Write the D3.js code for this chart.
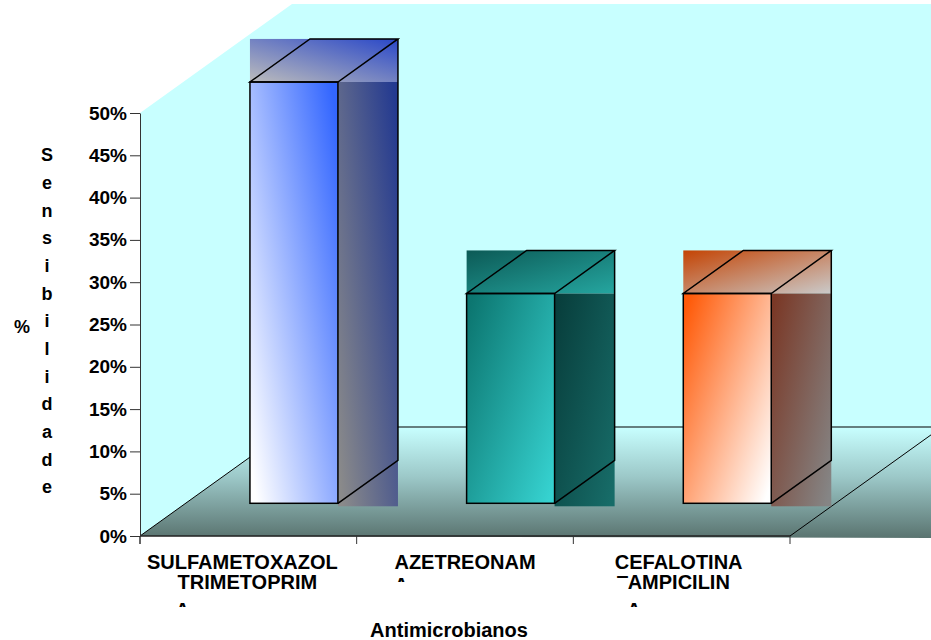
<!DOCTYPE html>
<html>
<head>
<meta charset="utf-8">
<script src="https://cdn.jsdelivr.net/npm/d3@7"></script>
<style>
  body { margin: 0; background: #fff; }
  text { font-family: Arial, 'Liberation Sans', sans-serif; font-weight: bold; fill: #000; }
</style>
</head>
<body>
<svg id="chart" width="931" height="640"></svg>
<script>
// data
const categories = ['SULFAMETOXAZOL TRIMETOPRIM', 'AZETREONAM', 'CEFALOTINA AMPICILIN'];
const values = [0.498, 0.248, 0.248];
const yTicks = [0, 0.05, 0.10, 0.15, 0.20, 0.25, 0.30, 0.35, 0.40, 0.45, 0.50];
const yTitle = 'Sensibilidade';
const xTitle = 'Antimicrobianos';

// colours per bar: front, side, top (from -> to)
const palette = [
  { front: ['#ffffff', '#3366ff'], side: ['#8a8a8a', '#243a90'], top: ['#bcbcbc', '#2a48c8'] },
  { front: ['#0c7670', '#36d2d0'], side: ['#083e3c', '#176c68'], top: ['#0c5a56', '#25a6a0'] },
  { front: ['#ff5a08', '#ffffff'], side: ['#7a3826', '#858585'], top: ['#c44404', '#cacaca'] }
];

const svg = d3.select('#chart');
const defs = svg.append('defs');

const y = d3.scaleLinear().domain([0, 0.5]).range([536, 113]);
const x = d3.scaleBand()
  .domain(categories)
  .range([140, 790])
  .paddingInner(0.594)
  .paddingOuter(0.297);

// oblique depth vector of the whole floor
const depth = [152, -109];
const proj = (px, py, d) => [px + depth[0] * d, py + depth[1] * d];

const x0 = x.range()[0], x1 = x.range()[1];
const yTop = y(0.5), yBase = y(0);
const backTL = proj(x0, yTop, 1);
const backBL = proj(x0, yBase, 1);

// back + side wall
svg.append('polygon')
  .attr('points', [[x0, yTop], backTL, [931, backTL[1]], [931, backBL[1]], backBL, [x0, yBase]].join(' '))
  .attr('fill', '#c8ffff');

// floor
let fg = defs.append('linearGradient').attr('id', 'floorGrad')
  .attr('gradientUnits', 'userSpaceOnUse')
  .attr('x1', 0).attr('y1', backBL[1]).attr('x2', 0).attr('y2', yBase + 2);
fg.append('stop').attr('offset', 0).attr('stop-color', '#c8ffff');
fg.append('stop').attr('offset', 0.45).attr('stop-color', '#9cc8c8');
fg.append('stop').attr('offset', 1).attr('stop-color', '#5a7470');

svg.append('polygon')
  .attr('points', [[x0, yBase], [931, yBase + 2], [931, backBL[1]], backBL].join(' '))
  .attr('fill', 'url(#floorGrad)');

const line = (a, b, w, c) => svg.append('line')
  .attr('x1', a[0]).attr('y1', a[1]).attr('x2', b[0]).attr('y2', b[1])
  .attr('stroke', c || '#000').attr('stroke-width', w || 1);

line(backBL, [931, backBL[1]], 1.2);
line([x0, yBase], backBL, 1);
line([x1, yBase], proj(x1, yBase, 1), 1);

// gradients for bars
function grad(id, cols, dir) {
  let g = defs.append('linearGradient').attr('id', id)
    .attr('x1', dir[0]).attr('y1', dir[1]).attr('x2', dir[2]).attr('y2', dir[3]);
  g.append('stop').attr('offset', 0).attr('stop-color', cols[0]);
  g.append('stop').attr('offset', 1).attr('stop-color', cols[1]);
}
palette.forEach((p, i) => {
  if (i === 0) {
    grad('front' + i, p.front, [0, 0.9, 1, 0.1]);
    grad('side' + i, p.side, [0, 0.9, 1, 0.1]);
    grad('top' + i, p.top, [0, 1, 1, 0]);
  } else {
    grad('front' + i, p.front, [0, 0.1, 1, 0.9]);
    grad('side' + i, p.side, [0, 0.1, 1, 0.9]);
    grad('top' + i, p.top, [0, 0, 1, 1]);
  }
});

// bars
const d0 = 0.30, dBar = 0.395;
const bw = x.bandwidth();
const bars = svg.append('g');
categories.forEach((c, i) => {
  const [fx, fb] = proj(x(c), y(0), d0);
  const ft = proj(x(c), y(values[i]), d0)[1];
  const bdx = depth[0] * dBar, bdy = depth[1] * dBar;
  const g = bars.append('g');

  g.append('rect').attr('x', fx).attr('y', ft + bdy).attr('width', bw + bdx).attr('height', -bdy)
    .attr('fill', `url(#top${i})`);
  g.append('rect').attr('x', fx + bw).attr('y', ft).attr('width', bdx).attr('height', fb - ft + 3)
    .attr('fill', `url(#side${i})`);
  g.append('rect').attr('x', fx).attr('y', ft).attr('width', bw).attr('height', fb - ft)
    .attr('fill', `url(#front${i})`).attr('stroke', '#000').attr('stroke-width', 1.5);

  g.append('path')
    .attr('d', `M${fx},${ft}L${fx + bw},${ft}L${fx + bw + bdx},${ft + bdy}L${fx + bdx},${ft + bdy}Z`)
    .attr('fill', 'none').attr('stroke', '#000').attr('stroke-width', 1.5);
  g.append('path')
    .attr('d', `M${fx + bw},${fb}L${fx + bw + bdx},${fb + bdy}L${fx + bw + bdx},${ft + bdy}`)
    .attr('fill', 'none').attr('stroke', '#000').attr('stroke-width', 1.5);
});

// front floor edge and y axis
line([x0, yBase], [x1, yBase], 1.5, '#222');

const yAxis = svg.append('g')
  .attr('transform', `translate(${x0},0)`)
  .call(d3.axisLeft(y).tickValues(yTicks).tickFormat(d3.format('.0%'))
    .tickSize(10).tickSizeOuter(0).tickPadding(3));
yAxis.select('.domain').attr('stroke', '#333');
yAxis.selectAll('.tick line').attr('stroke', '#333');
yAxis.selectAll('text').attr('font-size', 19).attr('font-family', null);
line([x0, yBase], [x0, yBase + 8], 1, '#333');

// x ticks on band boundaries
d3.range(categories.length + 1).forEach(k => {
  const bx = x0 + k * x.step();
  line([bx, yBase], [bx, yBase + 8], 1, '#333');
});

// category labels (with the clipped glyphs of the original)
const labels = svg.append('g').attr('font-size', 20);
function clipText(id, tx, ty, txt, anchor, clipY0, clipY1) {
  defs.append('clipPath').attr('id', id)
    .append('rect').attr('x', 0).attr('y', clipY0).attr('width', 931).attr('height', clipY1 - clipY0);
  labels.append('text').attr('x', tx).attr('y', ty).attr('text-anchor', anchor)
    .attr('clip-path', `url(#${id})`).text(txt);
}
const cx = c => x(c) + bw / 2;
const wordsOf = c => c.split(' ');

// label 1
labels.append('text').attr('x', cx(categories[0]) - 6).attr('y', 569).attr('text-anchor', 'middle').text(wordsOf(categories[0])[0]);
labels.append('text').attr('x', cx(categories[0]) - 1).attr('y', 589).attr('text-anchor', 'middle').text(wordsOf(categories[0])[1]);
clipText('c1', cx(categories[0]) - 73, 617, 'A', 'start', 600, 607);
// label 2
labels.append('text').attr('x', cx(categories[1])).attr('y', 569).attr('text-anchor', 'middle').text(wordsOf(categories[1])[0]);
clipText('c2', cx(categories[1]) - 71, 592, 'A', 'start', 575, 582);
// label 3
labels.append('text').attr('x', cx(categories[2]) - 3).attr('y', 569).attr('text-anchor', 'middle').text(wordsOf(categories[2])[0]);
clipText('c3', cx(categories[2]) - 66, 590, 'E', 'start', 574, 578);
labels.append('text').attr('x', cx(categories[2]) - 54).attr('y', 589).attr('text-anchor', 'start').text(wordsOf(categories[2])[1]);
clipText('c4', cx(categories[2]) - 55, 617, 'A', 'start', 600, 607);

// axis titles
svg.append('text').attr('x', 449).attr('y', 637).attr('text-anchor', 'middle')
  .attr('font-size', 20).text(xTitle);

const letters = yTitle.split('');
const ly = d3.scalePoint().domain(d3.range(letters.length)).range([155, 487]);
svg.append('g').attr('font-size', 18).selectAll('text')
  .data(letters).enter().append('text')
  .attr('x', 47).attr('y', (d, k) => ly(k))
  .attr('dy', '0.36em').attr('text-anchor', 'middle')
  .text(d => d);
svg.append('text').attr('x', 22).attr('y', 327).attr('dy', '0.36em')
  .attr('text-anchor', 'middle').attr('font-size', 18).text('%');
</script>
</body>
</html>
